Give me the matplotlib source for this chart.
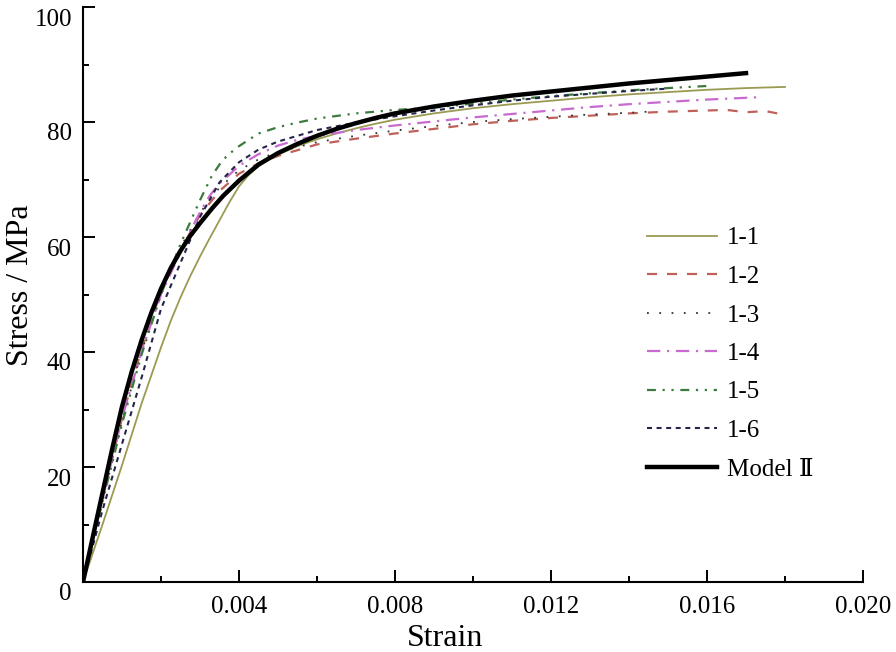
import matplotlib
matplotlib.use('Agg')
import matplotlib.pyplot as plt
import matplotlib.transforms as mtransforms
from matplotlib.ticker import MultipleLocator

plt.rcParams['font.family'] = ['Liberation Serif', 'DejaVu Serif']

# --- data (strain, stress in MPa) ---
strain_11 = [0, 0.0005, 0.001, 0.0015, 0.002, 0.00225, 0.0025, 0.00275, 0.003, 0.00325, 0.0035,
             0.00375, 0.004, 0.00425, 0.0045, 0.00475, 0.005, 0.0055, 0.006, 0.0065, 0.007, 0.0075,
             0.008, 0.009, 0.010, 0.011, 0.012, 0.013, 0.014, 0.015, 0.016, 0.017, 0.018]
stress_11 = [0, 10.0, 20.3, 31.0, 40.8, 45.4, 49.5, 53.2, 56.6, 59.8, 62.9,
             66.0, 68.8, 70.8, 72.3, 73.4, 74.3, 75.8, 77.0, 78.0, 78.9, 79.7,
             80.4, 81.5, 82.4, 83.1, 83.7, 84.3, 84.8, 85.2, 85.6, 85.9, 86.1]

strain_12 = [0, 0.0005, 0.001, 0.0015, 0.002, 0.0025, 0.003, 0.0035, 0.004, 0.0045, 0.005, 0.0055,
             0.006, 0.007, 0.008, 0.009, 0.010, 0.011, 0.012, 0.013, 0.014, 0.015, 0.016, 0.0165,
             0.017, 0.0175, 0.0178]
stress_12 = [0, 14.5, 28.5, 40.5, 50.5, 57.8, 63.8, 68.0, 71.0, 72.8, 74.1, 75.1,
             76.1, 77.1, 78.0, 78.8, 79.6, 80.2, 80.7, 81.1, 81.5, 81.8, 82.0, 82.1,
             81.7, 81.9, 81.5]

strain_13 = [0, 0.0005, 0.001, 0.0015, 0.002, 0.0025, 0.003, 0.0035, 0.004, 0.0045, 0.005, 0.006,
             0.007, 0.008, 0.009, 0.010, 0.011, 0.012, 0.013, 0.014, 0.0145]
stress_13 = [0, 14.0, 28.0, 40.0, 50.3, 58.2, 64.2, 68.6, 71.6, 73.5, 74.8, 76.5,
             77.6, 78.5, 79.3, 80.0, 80.5, 80.9, 81.3, 81.6, 81.8]

strain_14 = [0, 0.0005, 0.001, 0.0015, 0.002, 0.0025, 0.00275, 0.003, 0.00325, 0.0035, 0.00375,
             0.004, 0.0045, 0.005, 0.0055, 0.006, 0.007, 0.008, 0.009, 0.010, 0.011, 0.012,
             0.013, 0.014, 0.015, 0.016, 0.0173]
stress_14 = [0, 14.5, 28.5, 40.0, 50.0, 57.4, 61.0, 64.3, 67.2, 69.3, 70.8,
             72.4, 74.4, 75.9, 76.9, 77.6, 78.6, 79.4, 80.1, 80.8, 81.4, 82.0,
             82.6, 83.1, 83.5, 83.9, 84.3]

strain_15 = [0, 0.0005, 0.001, 0.0015, 0.002, 0.0025, 0.00275, 0.003, 0.0033, 0.0035, 0.0037,
             0.004, 0.0045, 0.005, 0.0055, 0.006, 0.007, 0.008, 0.009, 0.010, 0.011, 0.012,
             0.013, 0.014, 0.015, 0.0161]
stress_15 = [0, 14.0, 27.5, 39.5, 50.0, 58.8, 62.6, 66.4, 70.6, 72.6, 74.2,
             75.8, 78.0, 79.1, 79.9, 80.6, 81.5, 82.1, 82.5, 83.2, 83.9, 84.5,
             85.0, 85.5, 85.9, 86.3]

strain_16 = [0, 0.0005, 0.001, 0.0015, 0.002, 0.0025, 0.003, 0.0035, 0.004, 0.0045, 0.005, 0.006,
             0.007, 0.008, 0.009, 0.010, 0.011, 0.012, 0.013, 0.014, 0.015]
stress_16 = [0, 12.5, 24.0, 35.5, 47.5, 55.5, 63.5, 69.5, 73.0, 75.2, 76.6, 78.6,
             79.9, 81.0, 82.0, 82.9, 83.7, 84.4, 84.9, 85.4, 85.8]

strain_model = [0, 0.00025, 0.0005, 0.00075, 0.001, 0.00125, 0.0015, 0.00175, 0.002, 0.00225,
                0.0025, 0.00275, 0.003, 0.0033, 0.0036, 0.004, 0.0045, 0.005, 0.0055, 0.006,
                0.0065, 0.007, 0.0075, 0.008, 0.009, 0.010, 0.011, 0.012, 0.013, 0.014,
                0.015, 0.016, 0.017]
stress_model = [0, 7.8, 15.5, 23.2, 30.5, 36.6, 42.0, 46.8, 51.0, 54.6,
                57.6, 60.2, 62.4, 64.9, 67.2, 69.8, 72.6, 74.6, 76.2, 77.6,
                78.8, 79.8, 80.7, 81.5, 82.7, 83.7, 84.6, 85.3, 86.0, 86.7,
                87.3, 87.9, 88.5]

labels = ['1-1', '1-2', '1-3', '1-4', '1-5', '1-6', 'Model Ⅱ']

fig = plt.figure(figsize=(8.96, 6.52), dpi=100)
ax = fig.add_axes([83 / 896, 1 - 582 / 652, 780 / 896, 575 / 652])

ax.plot(strain_11, stress_11, color='#9a9a52', lw=1.3, label=labels[0])
ax.plot(strain_12, stress_12, color='#c0605a', lw=1.6, linestyle=(0, (4.5, 4.5)), label=labels[1])
ax.plot(strain_13, stress_13, color='#333333', lw=1.3, linestyle=(0, (1, 5.8)), label=labels[2])
ax.plot(strain_14, stress_14, color='#c86ad0', lw=1.6, linestyle=(0, (6, 3, 1, 3)), label=labels[3])
ax.plot(strain_15, stress_15, color='#3d7a3d', lw=1.6, linestyle=(0, (4, 3, 1, 3, 1, 3)), label=labels[4])
ax.plot(strain_16, stress_16, color='#25254a', lw=1.5, linestyle=(0, (2.4, 2.2)), label=labels[5])
ax.plot(strain_model, stress_model, color='black', lw=3.2, label=labels[6])

ax.set_xlim(0, 0.020)
ax.set_ylim(0, 100)
ax.set_xticks([0.004, 0.008, 0.012, 0.016, 0.020])
ax.set_xticklabels(['0.004', '0.008', '0.012', '0.016', '0.020'])
ax.xaxis.set_minor_locator(MultipleLocator(0.002))
ax.set_yticks([0, 20, 40, 60, 80, 100])
ax.yaxis.set_minor_locator(MultipleLocator(10))

for side in ['top', 'right']:
    ax.spines[side].set_visible(False)
for side in ['left', 'bottom']:
    ax.spines[side].set_linewidth(1.5)

ax.tick_params(which='major', direction='in', length=8.5, width=1.4, labelsize=18)
ax.tick_params(which='minor', direction='in', length=4.5, width=1.4)
ax.tick_params(axis='x', which='major', pad=10)
ax.tick_params(axis='y', which='major', pad=8)

# y tick labels sit a bit below their ticks in the original
offset = mtransforms.ScaledTranslation(0, -0.10, fig.dpi_scale_trans)
for lab in ax.get_yticklabels():
    lab.set_transform(lab.get_transform() + offset)

ax.set_xlabel('Strain', fontsize=23)
ax.xaxis.set_label_coords((445 - 83) / 780, -0.073)
ax.set_ylabel('Stress / MPa', fontsize=23)
ax.yaxis.set_label_coords(-0.062, 0.5165)

ax.legend(loc='upper left', bbox_to_anchor=(647 / 896, 1 - 227 / 652),
          bbox_transform=fig.transFigure, frameon=False, fontsize=18,
          handlelength=2.8, handletextpad=0.4, labelspacing=0.64,
          borderpad=0, borderaxespad=0)

fig.savefig('out.png', dpi=100)
